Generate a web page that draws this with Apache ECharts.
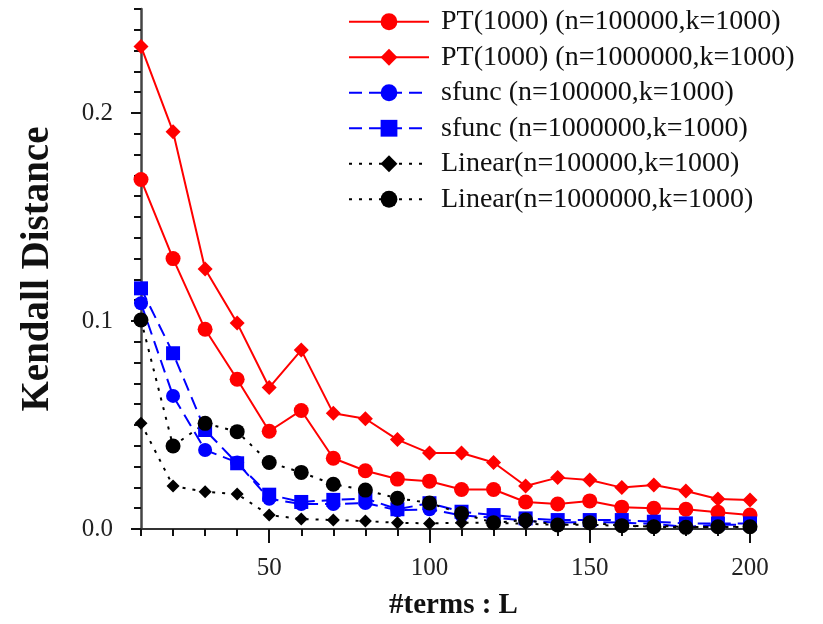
<!DOCTYPE html>
<html><head><meta charset="utf-8">
<script src="https://cdn.jsdelivr.net/npm/echarts@6/dist/echarts.min.js"></script>
<style>html,body{margin:0;padding:0;background:#fff}#c{width:823px;height:624px}</style>
</head><body><div id="c"></div>
<script>
var terms = [10,20,30,40,50,60,70,80,90,100,110,120,130,140,150,160,170,180,190,200];
var pt100k = [0.168,0.130,0.096,0.072,0.047,0.057,0.034,0.028,0.024,0.023,0.019,0.019,0.013,0.012,0.0135,0.0105,0.010,0.0095,0.008,0.0067];
var pt1m = [0.232,0.191,0.125,0.099,0.068,0.086,0.0556,0.053,0.043,0.0365,0.0365,0.032,0.0207,0.0247,0.0236,0.0199,0.0212,0.0183,0.0144,0.0139];
var sfunc100k = [0.1085,0.064,0.038,0.032,0.0145,0.012,0.012,0.0125,0.009,0.0095,0.0065,0.0055,0.004,0.003,0.0035,0.003,0.0025,0.001,0.002,0.002];
var sfunc1m = [0.1157,0.0845,0.0476,0.0316,0.0165,0.013,0.014,0.0147,0.0095,0.0124,0.0083,0.0067,0.0051,0.0043,0.0043,0.0043,0.0035,0.0027,0.0027,0.0027];
var linear100k = [0.0508,0.0207,0.0179,0.0168,0.0067,0.0048,0.0043,0.0038,0.003,0.0027,0.003,0.003,0.0025,0.002,0.002,0.0015,0.0015,0.001,0.001,0.001];
var linear1m = [0.1005,0.0399,0.0508,0.0468,0.032,0.0272,0.0215,0.0187,0.0148,0.0125,0.0075,0.003,0.0043,0.0019,0.003,0.0016,0.0011,0.0008,0.0011,0.0011];
var seriesNames = ['PT(1000) (n=100000,k=1000)','PT(1000) (n=1000000,k=1000)','sfunc (n=100000,k=1000)','sfunc (n=1000000,k=1000)','Linear(n=100000,k=1000)','Linear(n=1000000,k=1000)'];
var xMajorTicks = [50,100,150,200];
var yMajorTicks = [0,0.1,0.2];

function pairs(v){ return terms.map(function(t,i){ return [t, v[i]]; }); }
var FONT = '"Liberation Serif","Times New Roman",serif';
var axisCol = '#333';

function mk(name, data, color, symbol, size, ltype){
  return {
    name: name, type: 'line', data: pairs(data), xAxisIndex: 0, yAxisIndex: 0,
    symbol: symbol, symbolSize: size, showSymbol: true,
    lineStyle: {color: color, width: 2, type: ltype},
    itemStyle: {color: color},
    emphasis: {disabled: true}, animation: false
  };
}

var chart = echarts.init(document.getElementById('c'));
chart.setOption({
  backgroundColor: '#fff',
  animation: false,
  grid: {left: 141, right: 73, top: 9, bottom: 95, containLabel: false, outerBoundsMode: 'none'},
  legend: {
    orient: 'vertical', left: 343, top: 2, itemWidth: 80, itemHeight: 21, itemGap: 6,
    textStyle: {fontFamily: FONT, fontSize: 28, color: '#111', lineHeight: 29.5, padding: [0,0,0,7]},
    data: seriesNames
  },
  xAxis: [
    {type: 'value', min: 10, max: 200, interval: 10,
     axisLine: {show: true, lineStyle: {color: axisCol, width: 2}},
     axisTick: {show: true, inside: false, length: 7, lineStyle: {color: '#111', width: 2}},
     axisLabel: {show: false}, splitLine: {show: false},
     name: '#terms : L', nameLocation: 'middle', nameGap: 62,
     nameTextStyle: {fontFamily: FONT, fontSize: 29, fontWeight: 'bold', color: '#111', padding: [0,0,0,16]}
    },
    {type: 'value', min: 10, max: 200, position: 'bottom',
     axisLine: {show: false},
     axisTick: {show: true, length: 14, customValues: xMajorTicks, lineStyle: {color: '#111', width: 2}},
     axisLabel: {show: true, customValues: xMajorTicks, margin: 27, fontFamily: FONT, fontSize: 25, color: '#222'},
     splitLine: {show: false}
    }
  ],
  yAxis: [
    {type: 'value', min: 0, max: 0.25, interval: 0.01,
     axisLine: {show: true, lineStyle: {color: '#444', width: 2.5}},
     axisTick: {show: true, length: 7, lineStyle: {color: '#111', width: 2}},
     axisLabel: {show: false}, splitLine: {show: false},
     name: 'Kendall Distance', nameLocation: 'middle', nameGap: 84, nameRotate: 90,
     nameTextStyle: {fontFamily: FONT, fontSize: 39, fontWeight: 'bold', color: '#111'}
    },
    {type: 'value', min: 0, max: 0.25, position: 'left',
     axisLine: {show: false},
     axisTick: {show: true, length: 10, customValues: yMajorTicks, lineStyle: {color: '#111', width: 2}},
     axisLabel: {show: true, customValues: yMajorTicks, margin: 28, fontFamily: FONT, fontSize: 25, color: '#222',
       formatter: function(v){ return v.toFixed(1); }},
     splitLine: {show: false}
    }
  ],
  series: [
    mk(seriesNames[0], pt100k, '#ff0000', 'circle', 15, 'solid'),
    mk(seriesNames[1], pt1m, '#ff0000', 'diamond', 15, 'solid'),
    mk(seriesNames[2], sfunc100k, '#0000ff', 'circle', 14, [13,7]),
    mk(seriesNames[3], sfunc1m, '#0000ff', 'rect', 14, [13,7]),
    mk(seriesNames[4], linear100k, '#000000', 'diamond', 13, [3,7]),
    mk(seriesNames[5], linear1m, '#000000', 'circle', 15, [3,7])
  ]
});
</script></body></html>
